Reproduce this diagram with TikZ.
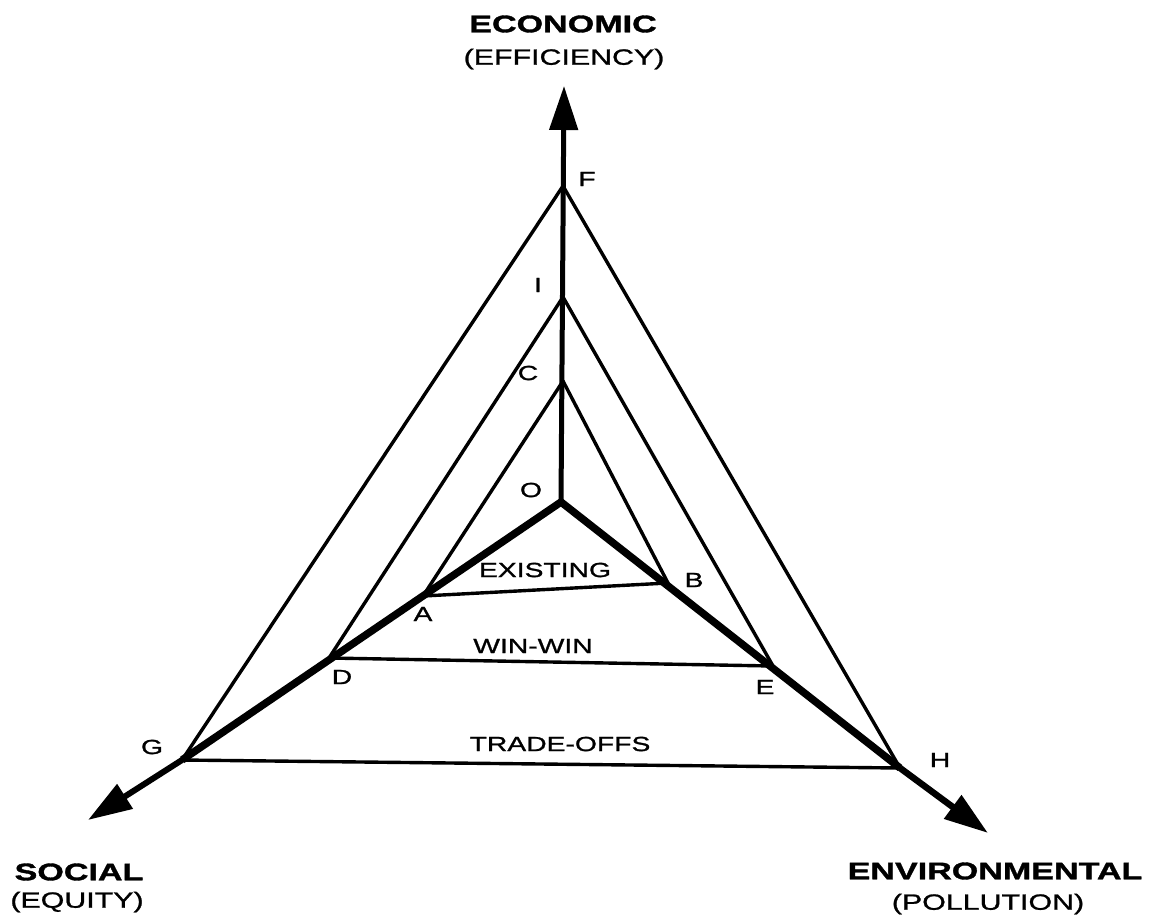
\documentclass[tikz,border=0pt]{standalone}
\usepackage{fontspec}
\setmainfont{Liberation Sans}
\newfontfamily\widefont[FakeStretch=1.38,FakeBold=1.2]{Liberation Sans}
\newfontfamily\widebold[FakeStretch=1.42,FakeBold=1.5]{Liberation Sans Bold}
\usetikzlibrary{arrows.meta}
\begin{document}
\begin{tikzpicture}[x=1pt,y=-1pt,
  thinline/.style={line width=3.4pt,line cap=round,line join=round},
  axisline/.style={line width=7.5pt,line join=round},
  vertaxis/.style={line width=5pt},
  tiparrow/.style={-{Triangle[length=44pt,width=28pt]}},
  ptlabel/.style={font=\widefont\fontsize{20.5}{22}\selectfont,inner sep=0pt},
  region/.style={font=\widefont\fontsize{20.5}{22}\selectfont,inner sep=0pt},
  title/.style={font=\widebold\fontsize{24}{26}\selectfont,inner sep=0pt},
  subtitle/.style={font=\widefont\fontsize{22}{24}\selectfont,inner sep=0pt}]
\useasboundingbox (0,0) rectangle (1161,919);
% vertices
\coordinate (O) at (561,502);
\coordinate (C) at (563,381);
\coordinate (I) at (563,297);
\coordinate (F) at (563,186);
\coordinate (A) at (423,596);
\coordinate (B) at (668,583);
\coordinate (D) at (329,658);
\coordinate (E) at (773,666);
\coordinate (G) at (182,760);
\coordinate (H) at (900,768);
\coordinate (TN) at (564,86);
\coordinate (TSW) at (88,820);
\coordinate (TSE) at (988,833);
% thin lines
\draw[thinline] (G) -- (F) -- (H);
\draw[thinline] (D) -- (I) -- (E);
\draw[thinline] (A) -- (C) -- (B);
\draw[thinline] (A) -- (B);
\draw[thinline] (D) -- (E);
\draw[thinline] (G) -- (H);
% axes
\draw[vertaxis,tiparrow] (O) -- (TN);
\draw[axisline] (O) -- (G);
\draw[axisline] (O) -- (H);
\draw[line width=6pt,tiparrow] (G) -- (TSW);
\draw[line width=6.5pt,tiparrow] (H) -- (TSE);
% point labels
\node[ptlabel] (lF) at (587,179) {F};
\node[ptlabel] (lI) at (538,285) {I};
\node[ptlabel] (lC) at (528,373) {C};
\node[ptlabel] (lO) at (531,490) {O};
\node[ptlabel] (lA) at (423,614) {A};
\node[ptlabel] (lB) at (694,580) {B};
\node[ptlabel] (lD) at (342,677) {D};
\node[ptlabel] (lE) at (765,687) {E};
\node[ptlabel] (lG) at (152,747) {G};
\node[ptlabel] (lH) at (940,760) {H};
% region labels
\node[region] (rEx) at (545,570) {EXISTING};
\node[region] (rWin) at (533,646) {WIN-WIN};
\node[region] (rTr) at (560,744) {TRADE-OFFS};
% axis titles
\node[title] (tEco) at (563,24) {ECONOMIC};
\node[subtitle] (sEco) at (564,59) {(EFFICIENCY)};
\node[title] (tSoc) at (79,872) {SOCIAL};
\node[subtitle] (sSoc) at (77,902) {(EQUITY)};
\node[title] (tEnv) at (995,871) {ENVIRONMENTAL};
\node[subtitle] (sEnv) at (988,904) {(POLLUTION)};
\end{tikzpicture}
\end{document}
